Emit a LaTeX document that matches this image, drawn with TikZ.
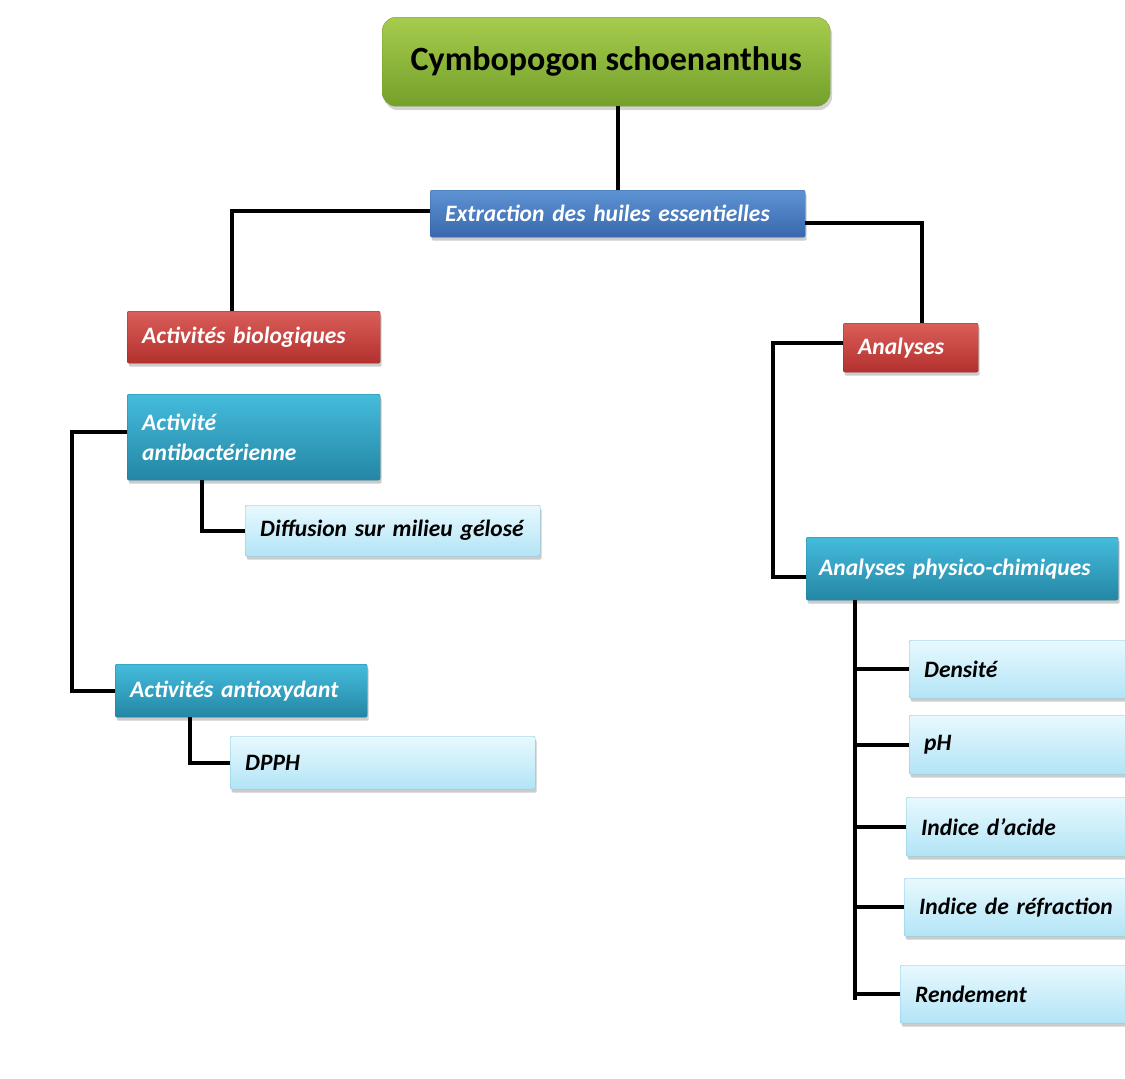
\documentclass[tikz,border=0pt]{standalone}
\usepackage{fontspec}
\setmainfont{Carlito}
\usetikzlibrary{shadows}
\definecolor{grT}{HTML}{A6CC4E}
\definecolor{grB}{HTML}{74A02A}
\definecolor{blT}{HTML}{5E93D3}
\definecolor{blB}{HTML}{3868AE}
\definecolor{blD}{HTML}{3463A0}
\definecolor{rdT}{HTML}{DA5E59}
\definecolor{rdB}{HTML}{B3302D}
\definecolor{rdD}{HTML}{A02A28}
\definecolor{tlT}{HTML}{45BCDD}
\definecolor{tlB}{HTML}{2486A4}
\definecolor{tlD}{HTML}{1F7C98}
\definecolor{ltT}{HTML}{E8F9FE}
\definecolor{ltB}{HTML}{B2E4F6}
\definecolor{ltD}{HTML}{7EC5DD}
\begin{document}
\begin{tikzpicture}[x=1pt,y=-1pt,
  base/.style={anchor=north west, rounded corners=2pt, inner xsep=15pt, inner ysep=0pt, align=left,
    font=\fontsize{23.5}{30}\selectfont\bfseries\itshape,
    drop shadow={shadow xshift=1.5pt,shadow yshift=-3.5pt,opacity=0.4}},
  greenbox/.style={anchor=north west, rounded corners=14pt, align=center, top color=grT, bottom color=grB, draw=grB,
    font=\fontsize{34}{40}\selectfont\bfseries, text=black,
    drop shadow={shadow xshift=2pt,shadow yshift=-4pt,opacity=0.35}},
  bluebox/.style={base, top color=blT, bottom color=blB, draw=blD, text=white},
  redbox/.style={base, top color=rdT, bottom color=rdB, draw=rdD, text=white},
  tealbox/.style={base, top color=tlT, bottom color=tlB, draw=tlD, text=white},
  lightbox/.style={base, top color=ltT, bottom color=ltB, draw=ltD, text=black},
  link/.style={draw=black, line width=4pt}
]
\useasboundingbox (0,0) rectangle (1125,1079);
\clip (0,0) rectangle (1125,1079);

\node[greenbox, minimum width=448pt, minimum height=89pt] (cym) at (382,17) {Cymbopogon schoenanthus};
\node[bluebox, text width=345pt, minimum height=47pt] (ext) at (430,190) {Extraction des huiles essentielles};

\node[redbox, text width=223pt, minimum height=52pt] (bio) at (127,311) {Activités biologiques};
\node[tealbox, text width=223pt, minimum height=86pt] (anti) at (127,394) {Activité\\antibactérienne};
\node[lightbox, text width=265pt, minimum height=51pt] (diff) at (245,505) {Diffusion sur milieu gélosé};
\node[tealbox, text width=222pt, minimum height=53pt] (oxy) at (115,664) {Activités antioxydant};
\node[lightbox, text width=275pt, minimum height=53pt] (dpph) at (230,736) {DPPH};

\node[redbox, text width=105pt, minimum height=49pt] (ana) at (843,323) {Analyses};
\node[tealbox, inner xsep=13pt, text width=286pt, minimum height=63pt] (phys) at (806,537) {Analyses physico-chimiques};

\node[lightbox, text width=220pt, minimum height=58pt] (dens) at (909,640) {Densité};
\node[lightbox, text width=220pt, minimum height=59pt] (ph) at (909,715) {pH};
\node[lightbox, text width=223pt, minimum height=59pt] (acid) at (906,797) {Indice d’acide};
\node[lightbox, text width=225pt, minimum height=58pt] (refr) at (904,878) {Indice de réfraction};
\node[lightbox, text width=229pt, minimum height=58pt] (rend) at (900,965) {Rendement};

% connectors
\coordinate (cA) at (232,0);
\coordinate (cB) at (922,0);
\coordinate (cC) at (72,0);
\coordinate (cD) at (202,0);
\coordinate (cE) at (190,0);
\coordinate (cF) at (773,0);
\coordinate (trunk) at (855,1000);
\coordinate (pw) at ([yshift=-8pt]phys.west);
\coordinate (aw) at ([yshift=5pt]ana.west);
\draw[link] (ext.north) -- (ext.north |- cym.south);
\draw[link] ([yshift=3pt]ext.west) -| (cA |- bio.north);
\draw[link] ([yshift=-9pt]ext.east) -| (cB |- ana.north);
\draw[link] ([yshift=5pt]anti.west) -| (cC |- oxy.west) -- (oxy.west);
\draw[link] (cD |- anti.south) |- (diff.west);
\draw[link] (cE |- oxy.south) |- (dpph.west);
\draw[link] (aw) -| (cF |- pw) -- (pw);
\draw[link] (trunk |- phys.south) -- (trunk);
\draw[link] (trunk |- dens.west) -- (dens.west);
\draw[link] (trunk |- ph.west) -- (ph.west);
\draw[link] (trunk |- acid.west) -- (acid.west);
\draw[link] (trunk |- refr.west) -- (refr.west);
\draw[link] (trunk |- rend.west) -- (rend.west);
\end{tikzpicture}
\end{document}
